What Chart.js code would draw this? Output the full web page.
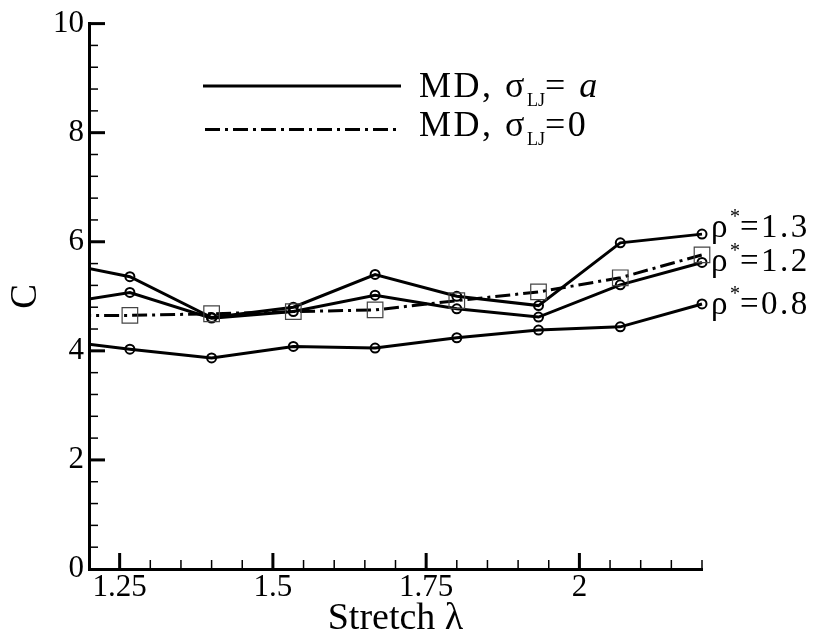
<!DOCTYPE html>
<html>
<head>
<meta charset="utf-8">
<script src="https://cdn.jsdelivr.net/npm/chart.js@4.4.1/dist/chart.umd.min.js"></script>
<style>
  body { margin: 0; background: #fff; }
  #wrap { position: relative; width: 816px; height: 639px; }
  .lbl {
    position: absolute;
    font-family: "Liberation Serif", "Times New Roman", serif;
    color: #000;
    line-height: 1;
    white-space: nowrap;
  }
  .legend { font-size: 36px; letter-spacing: 2.5px; }
  .rho { font-size: 33px; letter-spacing: 2.5px; }
  .sub { font-size: 18px; vertical-align: -9px; line-height: 0; letter-spacing: 0; }
  .sup { font-size: 20px; vertical-align: 14px; line-height: 0; letter-spacing: 0; }
</style>
</head>
<body>
<div id="wrap">
  <canvas id="chart"></canvas>
  <div class="lbl legend" style="left:419px; top:67px;">MD, σ<span class="sub">LJ</span>= <i>a</i></div>
  <div class="lbl legend" style="left:419px; top:106px;">MD, σ<span class="sub">LJ</span>=0</div>
  <div class="lbl rho" style="left:711px; top:210px;">ρ<span class="sup">*</span>=1.3</div>
  <div class="lbl rho" style="left:711px; top:244px;">ρ<span class="sup">*</span>=1.2</div>
  <div class="lbl rho" style="left:711px; top:287px;">ρ<span class="sup">*</span>=0.8</div>
</div>
<script>
// stretch values (first point lies left of the axis and is clipped)
const stretch = [1.1333, 1.2667, 1.4, 1.5333, 1.6667, 1.8, 1.9333, 2.0667, 2.2];
const rho13 = [5.66, 5.36, 4.61, 4.80, 5.40, 5.00, 4.83, 5.98, 6.14];
const rho12 = [4.83, 5.07, 4.60, 4.72, 5.02, 4.77, 4.62, 5.21, 5.62];
const rho08 = [4.21, 4.03, 3.87, 4.08, 4.05, 4.24, 4.38, 4.44, 4.86];
const sigmaZero = [4.65, 4.65, 4.68, 4.72, 4.75, 4.92, 5.08, 5.34, 5.76];

const xTickValues = [1.25, 1.5, 1.75, 2];
const xTickLabels = ["1.25", "1.5", "1.75", "2"];
const yTickValues = [0, 2, 4, 6, 8, 10];
const yTickLabels = ["0", "2", "4", "6", "8", "10"];

const SERIF = '"Liberation Serif", "Times New Roman", serif';
const DASH_DOT = [15, 5, 3, 5];

const toPoints = (ys) => stretch.map((x, i) => ({ x, y: ys[i] }));

function circleSeries(ys) {
  return {
    data: toPoints(ys),
    borderColor: "#000",
    borderWidth: 3,
    pointStyle: "circle",
    pointRadius: 4.5,
    pointBorderWidth: 2,
    pointBorderColor: "#000",
    pointBackgroundColor: "rgba(0,0,0,0)",
    clip: { left: 0, top: false, right: false, bottom: false },
  };
}

// tick marks point into the plot, majors long, minors short
const inwardTicks = {
  id: "inwardTicks",
  afterDatasetsDraw(chart) {
    const { ctx, chartArea: a, scales: { x, y } } = chart;
    ctx.save();
    ctx.strokeStyle = "#000";
    const line = (x1, y1, x2, y2, w) => {
      ctx.lineWidth = w;
      ctx.beginPath();
      ctx.moveTo(x1, y1);
      ctx.lineTo(x2, y2);
      ctx.stroke();
    };
    for (let i = 1; i <= 20; i++) {
      const v = x.min + i * 0.05;
      const px = x.getPixelForValue(v);
      const major = xTickValues.some((t) => Math.abs(t - v) < 1e-6);
      line(px, a.bottom, px, a.bottom - (major ? 16 : 9), major ? 3 : 1.5);
    }
    for (let i = 1; i <= 25; i++) {
      const v = i * 0.4;
      const py = y.getPixelForValue(v);
      const major = yTickValues.some((t) => Math.abs(t - v) < 1e-6);
      line(a.left, py, a.left + (major ? 16 : 9), py, major ? 3 : 1.5);
    }
    ctx.restore();
  },
};

// legend line samples; the texts are html next to them
const legendSamples = {
  id: "legendSamples",
  afterDraw(chart) {
    const ctx = chart.ctx;
    ctx.save();
    ctx.strokeStyle = "#000";
    ctx.lineWidth = 3;
    ctx.beginPath();
    ctx.moveTo(203, 86);
    ctx.lineTo(401, 86);
    ctx.stroke();
    ctx.setLineDash(DASH_DOT);
    ctx.beginPath();
    ctx.moveTo(205, 129.5);
    ctx.lineTo(401, 129.5);
    ctx.stroke();
    ctx.restore();
  },
};

new Chart(document.getElementById("chart"), {
  type: "line",
  data: {
    datasets: [
      {
        data: toPoints(sigmaZero),
        borderColor: "#000",
        borderWidth: 3,
        borderDash: DASH_DOT,
        pointStyle: "rect",
        pointRadius: 11,
        pointBorderWidth: 1.2,
        pointBorderColor: "#444",
        pointBackgroundColor: "rgba(0,0,0,0)",
        clip: { left: 0, top: false, right: false, bottom: false },
      },
      circleSeries(rho13),
      circleSeries(rho12),
      circleSeries(rho08),
    ],
  },
  options: {
    responsive: true,
    maintainAspectRatio: false,
    animation: false,
    layout: { padding: { top: 21, right: 114, bottom: 0, left: 0 } },
    plugins: { legend: { display: false }, tooltip: { enabled: false } },
    elements: { line: { tension: 0 } },
    scales: {
      x: {
        type: "linear",
        min: 1.2,
        max: 2.2,
        afterFit: (s) => { s.height = 70; },
        afterBuildTicks: (s) => { s.ticks = xTickValues.map((value) => ({ value })); },
        ticks: {
          padding: 0,
          color: "#000",
          font: { family: SERIF, size: 31 },
          maxRotation: 0,
          callback: (v) => xTickLabels[xTickValues.indexOf(v)] ?? "",
        },
        grid: { display: false, drawTicks: false },
        border: { display: true, color: "#000", width: 3 },
        title: {
          display: true,
          text: "Stretch λ",
          color: "#000",
          font: { family: SERIF, size: 38, lineHeight: 1 },
          padding: { top: 0, bottom: 1 },
        },
      },
      y: {
        min: 0,
        max: 10,
        afterFit: (s) => { s.width = 89; },
        afterBuildTicks: (s) => { s.ticks = yTickValues.map((value) => ({ value })); },
        ticks: {
          padding: 5,
          color: "#000",
          font: { family: SERIF, size: 31 },
          callback: (v) => yTickLabels[yTickValues.indexOf(v)] ?? "",
        },
        grid: { display: false, drawTicks: false },
        border: { display: true, color: "#000", width: 3 },
        title: {
          display: true,
          text: "C",
          color: "#000",
          font: { family: SERIF, size: 37 },
          padding: { top: 4, bottom: 0 },
        },
      },
    },
  },
  plugins: [inwardTicks, legendSamples],
});
</script>
</body>
</html>
